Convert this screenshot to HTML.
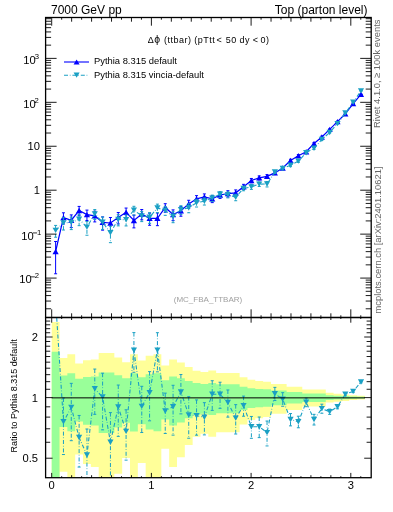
<!DOCTYPE html><html><head><meta charset="utf-8"><style>html,body{margin:0;padding:0;background:#fff;width:393px;height:512px;overflow:hidden}svg{position:absolute;left:0;top:0;will-change:transform}text{font-family:"Liberation Sans",sans-serif}</style></head><body>
<svg width="393" height="512" viewBox="0 0 393 512">
<defs><clipPath id="cm"><rect x="45.6" y="17.5" width="325.59999999999997" height="300.0"/></clipPath><clipPath id="cr"><rect x="45.6" y="317.5" width="325.59999999999997" height="160.2"/></clipPath></defs>
<g clip-path="url(#cr)">
<path d="M51.70,321.90 L59.53,321.90 L59.53,358.04 L67.36,358.04 L67.36,354.35 L75.19,354.35 L75.19,363.44 L83.02,363.44 L83.02,360.28 L90.85,360.28 L90.85,359.40 L98.68,359.40 L98.68,352.91 L106.51,352.91 L106.51,352.91 L114.34,352.91 L114.34,357.56 L122.17,357.56 L122.17,362.24 L130.00,362.24 L130.00,354.24 L137.83,354.24 L137.83,360.62 L145.67,360.62 L145.67,355.81 L153.50,355.81 L153.50,354.35 L161.33,354.35 L161.33,365.59 L169.16,365.59 L169.16,359.40 L176.99,359.40 L176.99,362.47 L184.82,362.47 L184.82,367.01 L192.65,367.01 L192.65,370.67 L200.48,370.67 L200.48,372.05 L208.31,372.05 L208.31,370.61 L216.14,370.61 L216.14,372.88 L223.97,372.88 L223.97,372.88 L231.80,372.88 L231.80,372.88 L239.63,372.88 L239.63,377.14 L247.46,377.14 L247.46,379.86 L255.29,379.86 L255.29,380.98 L263.12,380.98 L263.12,381.68 L270.95,381.68 L270.95,383.97 L278.78,383.97 L278.78,383.97 L286.61,383.97 L286.61,386.78 L294.44,386.78 L294.44,386.78 L302.27,386.78 L302.27,389.51 L310.10,389.51 L310.10,389.51 L317.93,389.51 L317.93,389.51 L325.76,389.51 L325.76,392.87 L333.60,392.87 L333.60,393.73 L341.43,393.73 L341.43,394.43 L349.26,394.43 L349.26,395.17 L357.09,395.17 L357.09,395.69 L364.92,395.69 L364.92,399.57 L357.09,399.57 L357.09,400.12 L349.26,400.12 L349.26,400.91 L341.43,400.91 L341.43,401.67 L333.60,401.67 L333.60,402.62 L325.76,402.62 L325.76,406.53 L317.93,406.53 L317.93,406.53 L310.10,406.53 L310.10,406.53 L302.27,406.53 L302.27,409.98 L294.44,409.98 L294.44,409.98 L286.61,409.98 L286.61,413.77 L278.78,413.77 L278.78,413.77 L270.95,413.77 L270.95,417.10 L263.12,417.10 L263.12,418.16 L255.29,418.16 L255.29,419.90 L247.46,419.90 L247.46,424.39 L239.63,424.39 L239.63,432.22 L231.80,432.22 L231.80,432.22 L223.97,432.22 L223.97,432.22 L216.14,432.22 L216.14,436.87 L208.31,436.87 L208.31,433.87 L200.48,433.87 L200.48,436.74 L192.65,436.74 L192.65,445.09 L184.82,445.09 L184.82,457.29 L176.99,457.29 L176.99,467.04 L169.16,467.04 L169.16,448.66 L161.33,448.66 L161.33,486.98 L153.50,486.98 L153.50,480.62 L145.67,480.62 L145.67,463.01 L137.83,463.01 L137.83,487.45 L130.00,487.45 L130.00,457.96 L122.17,457.96 L122.17,473.67 L114.34,473.67 L114.34,493.84 L106.51,493.84 L106.51,493.84 L98.68,493.84 L98.68,467.04 L90.85,467.04 L90.85,464.09 L83.02,464.09 L83.02,454.48 L75.19,454.48 L75.19,486.98 L67.36,486.98 L67.36,471.86 L59.53,471.86 L59.53,482.70 L51.70,482.70Z" fill="#ffff99"/>
<path d="M51.70,351.80 L59.53,351.80 L59.53,375.61 L67.36,375.61 L67.36,373.33 L75.19,373.33 L75.19,378.87 L83.02,378.87 L83.02,376.97 L90.85,376.97 L90.85,376.44 L98.68,376.44 L98.68,372.43 L106.51,372.43 L106.51,372.43 L114.34,372.43 L114.34,375.31 L122.17,375.31 L122.17,378.15 L130.00,378.15 L130.00,373.27 L137.83,373.27 L137.83,377.17 L145.67,377.17 L145.67,374.23 L153.50,374.23 L153.50,373.33 L161.33,373.33 L161.33,380.14 L169.16,380.14 L169.16,376.44 L176.99,376.44 L176.99,378.29 L184.82,378.29 L184.82,380.98 L192.65,380.98 L192.65,383.11 L200.48,383.11 L200.48,383.90 L208.31,383.90 L208.31,383.07 L216.14,383.07 L216.14,384.37 L223.97,384.37 L223.97,384.37 L231.80,384.37 L231.80,384.37 L239.63,384.37 L239.63,386.78 L247.46,386.78 L247.46,388.29 L255.29,388.29 L255.29,388.90 L263.12,388.90 L263.12,389.28 L270.95,389.28 L270.95,390.53 L278.78,390.53 L278.78,390.53 L286.61,390.53 L286.61,392.02 L294.44,392.02 L294.44,392.02 L302.27,392.02 L302.27,393.47 L310.10,393.47 L310.10,393.47 L317.93,393.47 L317.93,393.47 L325.76,393.47 L325.76,395.21 L333.60,395.21 L333.60,395.65 L341.43,395.65 L341.43,396.01 L349.26,396.01 L349.26,396.38 L357.09,396.38 L357.09,396.64 L364.92,396.64 L364.92,398.59 L357.09,398.59 L357.09,398.86 L349.26,398.86 L349.26,399.24 L341.43,399.24 L341.43,399.62 L333.60,399.62 L333.60,400.08 L325.76,400.08 L325.76,401.96 L317.93,401.96 L317.93,401.96 L310.10,401.96 L310.10,401.96 L302.27,401.96 L302.27,403.57 L294.44,403.57 L294.44,403.57 L286.61,403.57 L286.61,405.32 L278.78,405.32 L278.78,405.32 L270.95,405.32 L270.95,406.81 L263.12,406.81 L263.12,407.28 L255.29,407.28 L255.29,408.04 L247.46,408.04 L247.46,409.98 L239.63,409.98 L239.63,413.21 L231.80,413.21 L231.80,413.21 L223.97,413.21 L223.97,413.21 L216.14,413.21 L216.14,415.06 L208.31,415.06 L208.31,413.87 L200.48,413.87 L200.48,415.00 L192.65,415.00 L192.65,418.16 L184.82,418.16 L184.82,422.45 L176.99,422.45 L176.99,425.61 L169.16,425.61 L169.16,419.46 L161.33,419.46 L161.33,431.34 L153.50,431.34 L153.50,429.61 L145.67,429.61 L145.67,424.33 L137.83,424.33 L137.83,431.46 L130.00,431.46 L130.00,422.68 L122.17,422.68 L122.17,427.62 L114.34,427.62 L114.34,433.10 L106.51,433.10 L106.51,433.10 L98.68,433.10 L98.68,425.61 L90.85,425.61 L90.85,424.68 L83.02,424.68 L83.02,421.50 L75.19,421.50 L75.19,431.34 L67.36,431.34 L67.36,427.08 L59.53,427.08 L59.53,499.64 L51.70,499.64Z" fill="#99ff99"/>
<polyline points="55.62,301.00 63.45,421.80 71.28,407.40 79.11,437.50 86.94,455.00 94.77,388.80 102.60,397.00 110.43,442.30 118.26,407.00 126.09,431.40 133.92,350.20 141.75,406.40 149.58,392.80 157.41,350.10 165.24,411.00 173.07,406.70 180.90,392.00 188.73,415.00 196.56,415.80 204.39,417.30 212.22,394.30 220.05,394.30 227.88,402.50 235.71,418.10 243.55,405.60 251.38,426.70 259.21,426.70 267.04,432.60 274.87,393.70 282.70,399.20 290.53,419.50 298.36,421.80 306.19,402.30 314.02,419.50 321.85,408.60 329.68,411.70 337.51,406.70 345.34,394.20 353.17,391.40 361.00,382.00" fill="none" stroke="#1aa0c4" stroke-width="1.1" stroke-dasharray="4,1.8,0.7,1.9"/>
<line x1="63.45" y1="398.03" x2="63.45" y2="454.54" stroke="#1aa0c4" stroke-width="1" stroke-dasharray="4,1.8,0.7,1.9"/>
<line x1="61.95" y1="398.03" x2="64.95" y2="398.03" stroke="#1aa0c4" stroke-width="1"/>
<line x1="61.95" y1="454.54" x2="64.95" y2="454.54" stroke="#1aa0c4" stroke-width="1"/>
<line x1="71.28" y1="383.35" x2="71.28" y2="440.68" stroke="#1aa0c4" stroke-width="1" stroke-dasharray="4,1.8,0.7,1.9"/>
<line x1="69.78" y1="383.35" x2="72.78" y2="383.35" stroke="#1aa0c4" stroke-width="1"/>
<line x1="69.78" y1="440.68" x2="72.78" y2="440.68" stroke="#1aa0c4" stroke-width="1"/>
<line x1="79.11" y1="415.44" x2="79.11" y2="467.07" stroke="#1aa0c4" stroke-width="1" stroke-dasharray="4,1.8,0.7,1.9"/>
<line x1="77.61" y1="415.44" x2="80.61" y2="415.44" stroke="#1aa0c4" stroke-width="1"/>
<line x1="77.61" y1="467.07" x2="80.61" y2="467.07" stroke="#1aa0c4" stroke-width="1"/>
<line x1="86.94" y1="429.00" x2="86.94" y2="492.17" stroke="#1aa0c4" stroke-width="1" stroke-dasharray="4,1.8,0.7,1.9"/>
<line x1="85.44" y1="429.00" x2="88.44" y2="429.00" stroke="#1aa0c4" stroke-width="1"/>
<line x1="85.44" y1="492.17" x2="88.44" y2="492.17" stroke="#1aa0c4" stroke-width="1"/>
<line x1="94.77" y1="369.07" x2="94.77" y2="414.32" stroke="#1aa0c4" stroke-width="1" stroke-dasharray="4,1.8,0.7,1.9"/>
<line x1="93.27" y1="369.07" x2="96.27" y2="369.07" stroke="#1aa0c4" stroke-width="1"/>
<line x1="93.27" y1="414.32" x2="96.27" y2="414.32" stroke="#1aa0c4" stroke-width="1"/>
<line x1="102.60" y1="373.19" x2="102.60" y2="429.84" stroke="#1aa0c4" stroke-width="1" stroke-dasharray="4,1.8,0.7,1.9"/>
<line x1="101.10" y1="373.19" x2="104.10" y2="373.19" stroke="#1aa0c4" stroke-width="1"/>
<line x1="101.10" y1="429.84" x2="104.10" y2="429.84" stroke="#1aa0c4" stroke-width="1"/>
<line x1="110.43" y1="412.60" x2="110.43" y2="487.62" stroke="#1aa0c4" stroke-width="1" stroke-dasharray="4,1.8,0.7,1.9"/>
<line x1="108.93" y1="412.60" x2="111.93" y2="412.60" stroke="#1aa0c4" stroke-width="1"/>
<line x1="108.93" y1="487.62" x2="111.93" y2="487.62" stroke="#1aa0c4" stroke-width="1"/>
<line x1="118.26" y1="385.06" x2="118.26" y2="436.36" stroke="#1aa0c4" stroke-width="1" stroke-dasharray="4,1.8,0.7,1.9"/>
<line x1="116.76" y1="385.06" x2="119.76" y2="385.06" stroke="#1aa0c4" stroke-width="1"/>
<line x1="116.76" y1="436.36" x2="119.76" y2="436.36" stroke="#1aa0c4" stroke-width="1"/>
<line x1="126.09" y1="409.81" x2="126.09" y2="460.13" stroke="#1aa0c4" stroke-width="1" stroke-dasharray="4,1.8,0.7,1.9"/>
<line x1="124.59" y1="409.81" x2="127.59" y2="409.81" stroke="#1aa0c4" stroke-width="1"/>
<line x1="124.59" y1="460.13" x2="127.59" y2="460.13" stroke="#1aa0c4" stroke-width="1"/>
<line x1="133.92" y1="332.60" x2="133.92" y2="372.26" stroke="#1aa0c4" stroke-width="1" stroke-dasharray="4,1.8,0.7,1.9"/>
<line x1="132.42" y1="332.60" x2="135.42" y2="332.60" stroke="#1aa0c4" stroke-width="1"/>
<line x1="132.42" y1="372.26" x2="135.42" y2="372.26" stroke="#1aa0c4" stroke-width="1"/>
<line x1="141.75" y1="386.31" x2="141.75" y2="432.52" stroke="#1aa0c4" stroke-width="1" stroke-dasharray="4,1.8,0.7,1.9"/>
<line x1="140.25" y1="386.31" x2="143.25" y2="386.31" stroke="#1aa0c4" stroke-width="1"/>
<line x1="140.25" y1="432.52" x2="143.25" y2="432.52" stroke="#1aa0c4" stroke-width="1"/>
<line x1="149.58" y1="371.61" x2="149.58" y2="420.82" stroke="#1aa0c4" stroke-width="1" stroke-dasharray="4,1.8,0.7,1.9"/>
<line x1="148.08" y1="371.61" x2="151.08" y2="371.61" stroke="#1aa0c4" stroke-width="1"/>
<line x1="148.08" y1="420.82" x2="151.08" y2="420.82" stroke="#1aa0c4" stroke-width="1"/>
<line x1="157.41" y1="332.70" x2="157.41" y2="371.85" stroke="#1aa0c4" stroke-width="1" stroke-dasharray="4,1.8,0.7,1.9"/>
<line x1="155.91" y1="332.70" x2="158.91" y2="332.70" stroke="#1aa0c4" stroke-width="1"/>
<line x1="155.91" y1="371.85" x2="158.91" y2="371.85" stroke="#1aa0c4" stroke-width="1"/>
<line x1="165.24" y1="393.14" x2="165.24" y2="433.47" stroke="#1aa0c4" stroke-width="1" stroke-dasharray="4,1.8,0.7,1.9"/>
<line x1="163.74" y1="393.14" x2="166.74" y2="393.14" stroke="#1aa0c4" stroke-width="1"/>
<line x1="163.74" y1="433.47" x2="166.74" y2="433.47" stroke="#1aa0c4" stroke-width="1"/>
<line x1="173.07" y1="385.29" x2="173.07" y2="435.12" stroke="#1aa0c4" stroke-width="1" stroke-dasharray="4,1.8,0.7,1.9"/>
<line x1="171.57" y1="385.29" x2="174.57" y2="385.29" stroke="#1aa0c4" stroke-width="1"/>
<line x1="171.57" y1="435.12" x2="174.57" y2="435.12" stroke="#1aa0c4" stroke-width="1"/>
<line x1="180.90" y1="374.52" x2="180.90" y2="413.87" stroke="#1aa0c4" stroke-width="1" stroke-dasharray="4,1.8,0.7,1.9"/>
<line x1="179.40" y1="374.52" x2="182.40" y2="374.52" stroke="#1aa0c4" stroke-width="1"/>
<line x1="179.40" y1="413.87" x2="182.40" y2="413.87" stroke="#1aa0c4" stroke-width="1"/>
<line x1="188.73" y1="396.67" x2="188.73" y2="438.22" stroke="#1aa0c4" stroke-width="1" stroke-dasharray="4,1.8,0.7,1.9"/>
<line x1="187.23" y1="396.67" x2="190.23" y2="396.67" stroke="#1aa0c4" stroke-width="1"/>
<line x1="187.23" y1="438.22" x2="190.23" y2="438.22" stroke="#1aa0c4" stroke-width="1"/>
<line x1="196.56" y1="399.93" x2="196.56" y2="435.20" stroke="#1aa0c4" stroke-width="1" stroke-dasharray="4,1.8,0.7,1.9"/>
<line x1="195.06" y1="399.93" x2="198.06" y2="399.93" stroke="#1aa0c4" stroke-width="1"/>
<line x1="195.06" y1="435.20" x2="198.06" y2="435.20" stroke="#1aa0c4" stroke-width="1"/>
<line x1="204.39" y1="402.67" x2="204.39" y2="434.88" stroke="#1aa0c4" stroke-width="1" stroke-dasharray="4,1.8,0.7,1.9"/>
<line x1="202.89" y1="402.67" x2="205.89" y2="402.67" stroke="#1aa0c4" stroke-width="1"/>
<line x1="202.89" y1="434.88" x2="205.89" y2="434.88" stroke="#1aa0c4" stroke-width="1"/>
<line x1="212.22" y1="380.72" x2="212.22" y2="410.38" stroke="#1aa0c4" stroke-width="1" stroke-dasharray="4,1.8,0.7,1.9"/>
<line x1="210.72" y1="380.72" x2="213.72" y2="380.72" stroke="#1aa0c4" stroke-width="1"/>
<line x1="210.72" y1="410.38" x2="213.72" y2="410.38" stroke="#1aa0c4" stroke-width="1"/>
<line x1="220.05" y1="382.22" x2="220.05" y2="408.32" stroke="#1aa0c4" stroke-width="1" stroke-dasharray="4,1.8,0.7,1.9"/>
<line x1="218.55" y1="382.22" x2="221.55" y2="382.22" stroke="#1aa0c4" stroke-width="1"/>
<line x1="218.55" y1="408.32" x2="221.55" y2="408.32" stroke="#1aa0c4" stroke-width="1"/>
<line x1="227.88" y1="389.97" x2="227.88" y2="417.13" stroke="#1aa0c4" stroke-width="1" stroke-dasharray="4,1.8,0.7,1.9"/>
<line x1="226.38" y1="389.97" x2="229.38" y2="389.97" stroke="#1aa0c4" stroke-width="1"/>
<line x1="226.38" y1="417.13" x2="229.38" y2="417.13" stroke="#1aa0c4" stroke-width="1"/>
<line x1="235.71" y1="404.65" x2="235.71" y2="434.00" stroke="#1aa0c4" stroke-width="1" stroke-dasharray="4,1.8,0.7,1.9"/>
<line x1="234.21" y1="404.65" x2="237.21" y2="404.65" stroke="#1aa0c4" stroke-width="1"/>
<line x1="234.21" y1="434.00" x2="237.21" y2="434.00" stroke="#1aa0c4" stroke-width="1"/>
<line x1="243.55" y1="396.14" x2="243.55" y2="416.21" stroke="#1aa0c4" stroke-width="1" stroke-dasharray="4,1.8,0.7,1.9"/>
<line x1="242.05" y1="396.14" x2="245.05" y2="396.14" stroke="#1aa0c4" stroke-width="1"/>
<line x1="242.05" y1="416.21" x2="245.05" y2="416.21" stroke="#1aa0c4" stroke-width="1"/>
<line x1="251.38" y1="416.44" x2="251.38" y2="438.32" stroke="#1aa0c4" stroke-width="1" stroke-dasharray="4,1.8,0.7,1.9"/>
<line x1="249.88" y1="416.44" x2="252.88" y2="416.44" stroke="#1aa0c4" stroke-width="1"/>
<line x1="249.88" y1="438.32" x2="252.88" y2="438.32" stroke="#1aa0c4" stroke-width="1"/>
<line x1="259.21" y1="417.00" x2="259.21" y2="437.62" stroke="#1aa0c4" stroke-width="1" stroke-dasharray="4,1.8,0.7,1.9"/>
<line x1="257.71" y1="417.00" x2="260.71" y2="417.00" stroke="#1aa0c4" stroke-width="1"/>
<line x1="257.71" y1="437.62" x2="260.71" y2="437.62" stroke="#1aa0c4" stroke-width="1"/>
<line x1="267.04" y1="421.04" x2="267.04" y2="445.93" stroke="#1aa0c4" stroke-width="1" stroke-dasharray="4,1.8,0.7,1.9"/>
<line x1="265.54" y1="421.04" x2="268.54" y2="421.04" stroke="#1aa0c4" stroke-width="1"/>
<line x1="265.54" y1="445.93" x2="268.54" y2="445.93" stroke="#1aa0c4" stroke-width="1"/>
<line x1="274.87" y1="387.36" x2="274.87" y2="400.54" stroke="#1aa0c4" stroke-width="1" stroke-dasharray="4,1.8,0.7,1.9"/>
<line x1="273.37" y1="387.36" x2="276.37" y2="387.36" stroke="#1aa0c4" stroke-width="1"/>
<line x1="273.37" y1="400.54" x2="276.37" y2="400.54" stroke="#1aa0c4" stroke-width="1"/>
<line x1="282.70" y1="392.67" x2="282.70" y2="406.26" stroke="#1aa0c4" stroke-width="1" stroke-dasharray="4,1.8,0.7,1.9"/>
<line x1="281.20" y1="392.67" x2="284.20" y2="392.67" stroke="#1aa0c4" stroke-width="1"/>
<line x1="281.20" y1="406.26" x2="284.20" y2="406.26" stroke="#1aa0c4" stroke-width="1"/>
<line x1="290.53" y1="413.56" x2="290.53" y2="425.87" stroke="#1aa0c4" stroke-width="1" stroke-dasharray="4,1.8,0.7,1.9"/>
<line x1="289.03" y1="413.56" x2="292.03" y2="413.56" stroke="#1aa0c4" stroke-width="1"/>
<line x1="289.03" y1="425.87" x2="292.03" y2="425.87" stroke="#1aa0c4" stroke-width="1"/>
<line x1="298.36" y1="416.21" x2="298.36" y2="427.77" stroke="#1aa0c4" stroke-width="1" stroke-dasharray="4,1.8,0.7,1.9"/>
<line x1="296.86" y1="416.21" x2="299.86" y2="416.21" stroke="#1aa0c4" stroke-width="1"/>
<line x1="296.86" y1="427.77" x2="299.86" y2="427.77" stroke="#1aa0c4" stroke-width="1"/>
<line x1="306.19" y1="398.12" x2="306.19" y2="406.69" stroke="#1aa0c4" stroke-width="1" stroke-dasharray="4,1.8,0.7,1.9"/>
<line x1="304.69" y1="398.12" x2="307.69" y2="398.12" stroke="#1aa0c4" stroke-width="1"/>
<line x1="304.69" y1="406.69" x2="307.69" y2="406.69" stroke="#1aa0c4" stroke-width="1"/>
<line x1="314.02" y1="414.33" x2="314.02" y2="425.00" stroke="#1aa0c4" stroke-width="1" stroke-dasharray="4,1.8,0.7,1.9"/>
<line x1="312.52" y1="414.33" x2="315.52" y2="414.33" stroke="#1aa0c4" stroke-width="1"/>
<line x1="312.52" y1="425.00" x2="315.52" y2="425.00" stroke="#1aa0c4" stroke-width="1"/>
<line x1="321.85" y1="404.20" x2="321.85" y2="413.24" stroke="#1aa0c4" stroke-width="1" stroke-dasharray="4,1.8,0.7,1.9"/>
<line x1="320.35" y1="404.20" x2="323.35" y2="404.20" stroke="#1aa0c4" stroke-width="1"/>
<line x1="320.35" y1="413.24" x2="323.35" y2="413.24" stroke="#1aa0c4" stroke-width="1"/>
<line x1="329.68" y1="409.10" x2="329.68" y2="414.38" stroke="#1aa0c4" stroke-width="1" stroke-dasharray="4,1.8,0.7,1.9"/>
<line x1="328.18" y1="409.10" x2="331.18" y2="409.10" stroke="#1aa0c4" stroke-width="1"/>
<line x1="328.18" y1="414.38" x2="331.18" y2="414.38" stroke="#1aa0c4" stroke-width="1"/>
<line x1="337.51" y1="404.63" x2="337.51" y2="408.82" stroke="#1aa0c4" stroke-width="1" stroke-dasharray="4,1.8,0.7,1.9"/>
<line x1="336.01" y1="404.63" x2="339.01" y2="404.63" stroke="#1aa0c4" stroke-width="1"/>
<line x1="336.01" y1="408.82" x2="339.01" y2="408.82" stroke="#1aa0c4" stroke-width="1"/>
<line x1="345.34" y1="392.63" x2="345.34" y2="395.80" stroke="#1aa0c4" stroke-width="1" stroke-dasharray="4,1.8,0.7,1.9"/>
<line x1="343.84" y1="392.63" x2="346.84" y2="392.63" stroke="#1aa0c4" stroke-width="1"/>
<line x1="343.84" y1="395.80" x2="346.84" y2="395.80" stroke="#1aa0c4" stroke-width="1"/>
<line x1="353.17" y1="390.21" x2="353.17" y2="392.60" stroke="#1aa0c4" stroke-width="1" stroke-dasharray="4,1.8,0.7,1.9"/>
<line x1="351.67" y1="390.21" x2="354.67" y2="390.21" stroke="#1aa0c4" stroke-width="1"/>
<line x1="351.67" y1="392.60" x2="354.67" y2="392.60" stroke="#1aa0c4" stroke-width="1"/>
<line x1="361.00" y1="381.12" x2="361.00" y2="382.89" stroke="#1aa0c4" stroke-width="1" stroke-dasharray="4,1.8,0.7,1.9"/>
<line x1="359.50" y1="381.12" x2="362.50" y2="381.12" stroke="#1aa0c4" stroke-width="1"/>
<line x1="359.50" y1="382.89" x2="362.50" y2="382.89" stroke="#1aa0c4" stroke-width="1"/>
<path d="M52.52,298.30h6.2l-3.1,5.4z" fill="#1aa0c4"/>
<path d="M60.35,419.10h6.2l-3.1,5.4z" fill="#1aa0c4"/>
<path d="M68.18,404.70h6.2l-3.1,5.4z" fill="#1aa0c4"/>
<path d="M76.01,434.80h6.2l-3.1,5.4z" fill="#1aa0c4"/>
<path d="M83.84,452.30h6.2l-3.1,5.4z" fill="#1aa0c4"/>
<path d="M91.67,386.10h6.2l-3.1,5.4z" fill="#1aa0c4"/>
<path d="M99.50,394.30h6.2l-3.1,5.4z" fill="#1aa0c4"/>
<path d="M107.33,439.60h6.2l-3.1,5.4z" fill="#1aa0c4"/>
<path d="M115.16,404.30h6.2l-3.1,5.4z" fill="#1aa0c4"/>
<path d="M122.99,428.70h6.2l-3.1,5.4z" fill="#1aa0c4"/>
<path d="M130.82,347.50h6.2l-3.1,5.4z" fill="#1aa0c4"/>
<path d="M138.65,403.70h6.2l-3.1,5.4z" fill="#1aa0c4"/>
<path d="M146.48,390.10h6.2l-3.1,5.4z" fill="#1aa0c4"/>
<path d="M154.31,347.40h6.2l-3.1,5.4z" fill="#1aa0c4"/>
<path d="M162.14,408.30h6.2l-3.1,5.4z" fill="#1aa0c4"/>
<path d="M169.97,404.00h6.2l-3.1,5.4z" fill="#1aa0c4"/>
<path d="M177.80,389.30h6.2l-3.1,5.4z" fill="#1aa0c4"/>
<path d="M185.63,412.30h6.2l-3.1,5.4z" fill="#1aa0c4"/>
<path d="M193.46,413.10h6.2l-3.1,5.4z" fill="#1aa0c4"/>
<path d="M201.29,414.60h6.2l-3.1,5.4z" fill="#1aa0c4"/>
<path d="M209.12,391.60h6.2l-3.1,5.4z" fill="#1aa0c4"/>
<path d="M216.95,391.60h6.2l-3.1,5.4z" fill="#1aa0c4"/>
<path d="M224.78,399.80h6.2l-3.1,5.4z" fill="#1aa0c4"/>
<path d="M232.61,415.40h6.2l-3.1,5.4z" fill="#1aa0c4"/>
<path d="M240.45,402.90h6.2l-3.1,5.4z" fill="#1aa0c4"/>
<path d="M248.28,424.00h6.2l-3.1,5.4z" fill="#1aa0c4"/>
<path d="M256.11,424.00h6.2l-3.1,5.4z" fill="#1aa0c4"/>
<path d="M263.94,429.90h6.2l-3.1,5.4z" fill="#1aa0c4"/>
<path d="M271.77,391.00h6.2l-3.1,5.4z" fill="#1aa0c4"/>
<path d="M279.60,396.50h6.2l-3.1,5.4z" fill="#1aa0c4"/>
<path d="M287.43,416.80h6.2l-3.1,5.4z" fill="#1aa0c4"/>
<path d="M295.26,419.10h6.2l-3.1,5.4z" fill="#1aa0c4"/>
<path d="M303.09,399.60h6.2l-3.1,5.4z" fill="#1aa0c4"/>
<path d="M310.92,416.80h6.2l-3.1,5.4z" fill="#1aa0c4"/>
<path d="M318.75,405.90h6.2l-3.1,5.4z" fill="#1aa0c4"/>
<path d="M326.58,409.00h6.2l-3.1,5.4z" fill="#1aa0c4"/>
<path d="M334.41,404.00h6.2l-3.1,5.4z" fill="#1aa0c4"/>
<path d="M342.24,391.50h6.2l-3.1,5.4z" fill="#1aa0c4"/>
<path d="M350.07,388.70h6.2l-3.1,5.4z" fill="#1aa0c4"/>
<path d="M357.90,379.30h6.2l-3.1,5.4z" fill="#1aa0c4"/>
<line x1="51.7" y1="397.86" x2="364.92" y2="397.86" stroke="#000" stroke-width="1"/>
</g>
<g clip-path="url(#cm)">
<polyline points="55.62,251.50 63.45,217.60 71.28,220.20 79.11,210.50 86.94,214.60 94.77,215.80 102.60,222.40 110.43,223.00 118.26,217.40 126.09,212.30 133.92,220.50 141.75,214.00 149.58,218.30 157.41,218.30 165.24,207.50 173.07,214.50 180.90,210.80 188.73,203.90 196.56,198.80 204.39,196.90 212.22,198.80 220.05,195.00 227.88,193.60 235.71,192.80 243.55,186.70 251.38,180.50 259.21,177.80 267.04,176.40 274.87,172.90 282.70,168.00 290.53,160.50 298.36,155.80 306.19,151.70 314.02,143.50 321.85,137.00 329.68,129.40 337.51,121.60 345.34,113.80 353.17,103.60 361.00,94.30" fill="none" stroke="#0000ff" stroke-width="1.2"/>
<line x1="55.62" y1="241.50" x2="55.62" y2="273.77" stroke="#0000ff" stroke-width="1"/>
<line x1="54.12" y1="241.50" x2="57.12" y2="241.50" stroke="#0000ff" stroke-width="1"/>
<line x1="54.12" y1="273.77" x2="57.12" y2="273.77" stroke="#0000ff" stroke-width="1"/>
<line x1="63.45" y1="212.80" x2="63.45" y2="224.03" stroke="#0000ff" stroke-width="1"/>
<line x1="61.95" y1="212.80" x2="64.95" y2="212.80" stroke="#0000ff" stroke-width="1"/>
<line x1="61.95" y1="224.03" x2="64.95" y2="224.03" stroke="#0000ff" stroke-width="1"/>
<line x1="71.28" y1="214.90" x2="71.28" y2="227.56" stroke="#0000ff" stroke-width="1"/>
<line x1="69.78" y1="214.90" x2="72.78" y2="214.90" stroke="#0000ff" stroke-width="1"/>
<line x1="69.78" y1="227.56" x2="72.78" y2="227.56" stroke="#0000ff" stroke-width="1"/>
<line x1="79.11" y1="206.41" x2="79.11" y2="215.71" stroke="#0000ff" stroke-width="1"/>
<line x1="77.61" y1="206.41" x2="80.61" y2="206.41" stroke="#0000ff" stroke-width="1"/>
<line x1="77.61" y1="215.71" x2="80.61" y2="215.71" stroke="#0000ff" stroke-width="1"/>
<line x1="86.94" y1="210.10" x2="86.94" y2="220.51" stroke="#0000ff" stroke-width="1"/>
<line x1="85.44" y1="210.10" x2="88.44" y2="210.10" stroke="#0000ff" stroke-width="1"/>
<line x1="85.44" y1="220.51" x2="88.44" y2="220.51" stroke="#0000ff" stroke-width="1"/>
<line x1="94.77" y1="211.18" x2="94.77" y2="221.91" stroke="#0000ff" stroke-width="1"/>
<line x1="93.27" y1="211.18" x2="96.27" y2="211.18" stroke="#0000ff" stroke-width="1"/>
<line x1="93.27" y1="221.91" x2="96.27" y2="221.91" stroke="#0000ff" stroke-width="1"/>
<line x1="102.60" y1="216.91" x2="102.60" y2="230.15" stroke="#0000ff" stroke-width="1"/>
<line x1="101.10" y1="216.91" x2="104.10" y2="216.91" stroke="#0000ff" stroke-width="1"/>
<line x1="101.10" y1="230.15" x2="104.10" y2="230.15" stroke="#0000ff" stroke-width="1"/>
<line x1="110.43" y1="217.51" x2="110.43" y2="230.75" stroke="#0000ff" stroke-width="1"/>
<line x1="108.93" y1="217.51" x2="111.93" y2="217.51" stroke="#0000ff" stroke-width="1"/>
<line x1="108.93" y1="230.75" x2="111.93" y2="230.75" stroke="#0000ff" stroke-width="1"/>
<line x1="118.26" y1="212.53" x2="118.26" y2="223.95" stroke="#0000ff" stroke-width="1"/>
<line x1="116.76" y1="212.53" x2="119.76" y2="212.53" stroke="#0000ff" stroke-width="1"/>
<line x1="116.76" y1="223.95" x2="119.76" y2="223.95" stroke="#0000ff" stroke-width="1"/>
<line x1="126.09" y1="208.05" x2="126.09" y2="217.77" stroke="#0000ff" stroke-width="1"/>
<line x1="124.59" y1="208.05" x2="127.59" y2="208.05" stroke="#0000ff" stroke-width="1"/>
<line x1="124.59" y1="217.77" x2="127.59" y2="217.77" stroke="#0000ff" stroke-width="1"/>
<line x1="133.92" y1="215.19" x2="133.92" y2="227.89" stroke="#0000ff" stroke-width="1"/>
<line x1="132.42" y1="215.19" x2="135.42" y2="215.19" stroke="#0000ff" stroke-width="1"/>
<line x1="132.42" y1="227.89" x2="135.42" y2="227.89" stroke="#0000ff" stroke-width="1"/>
<line x1="141.75" y1="209.54" x2="141.75" y2="219.83" stroke="#0000ff" stroke-width="1"/>
<line x1="140.25" y1="209.54" x2="143.25" y2="209.54" stroke="#0000ff" stroke-width="1"/>
<line x1="140.25" y1="219.83" x2="143.25" y2="219.83" stroke="#0000ff" stroke-width="1"/>
<line x1="149.58" y1="213.20" x2="149.58" y2="225.28" stroke="#0000ff" stroke-width="1"/>
<line x1="148.08" y1="213.20" x2="151.08" y2="213.20" stroke="#0000ff" stroke-width="1"/>
<line x1="148.08" y1="225.28" x2="151.08" y2="225.28" stroke="#0000ff" stroke-width="1"/>
<line x1="157.41" y1="213.00" x2="157.41" y2="225.66" stroke="#0000ff" stroke-width="1"/>
<line x1="155.91" y1="213.00" x2="158.91" y2="213.00" stroke="#0000ff" stroke-width="1"/>
<line x1="155.91" y1="225.66" x2="158.91" y2="225.66" stroke="#0000ff" stroke-width="1"/>
<line x1="165.24" y1="203.69" x2="165.24" y2="212.27" stroke="#0000ff" stroke-width="1"/>
<line x1="163.74" y1="203.69" x2="166.74" y2="203.69" stroke="#0000ff" stroke-width="1"/>
<line x1="163.74" y1="212.27" x2="166.74" y2="212.27" stroke="#0000ff" stroke-width="1"/>
<line x1="173.07" y1="209.88" x2="173.07" y2="220.61" stroke="#0000ff" stroke-width="1"/>
<line x1="171.57" y1="209.88" x2="174.57" y2="209.88" stroke="#0000ff" stroke-width="1"/>
<line x1="171.57" y1="220.61" x2="174.57" y2="220.61" stroke="#0000ff" stroke-width="1"/>
<line x1="180.90" y1="206.58" x2="180.90" y2="216.22" stroke="#0000ff" stroke-width="1"/>
<line x1="179.40" y1="206.58" x2="182.40" y2="206.58" stroke="#0000ff" stroke-width="1"/>
<line x1="179.40" y1="216.22" x2="182.40" y2="216.22" stroke="#0000ff" stroke-width="1"/>
<line x1="188.73" y1="200.27" x2="188.73" y2="208.39" stroke="#0000ff" stroke-width="1"/>
<line x1="187.23" y1="200.27" x2="190.23" y2="200.27" stroke="#0000ff" stroke-width="1"/>
<line x1="187.23" y1="208.39" x2="190.23" y2="208.39" stroke="#0000ff" stroke-width="1"/>
<line x1="196.56" y1="195.63" x2="196.56" y2="202.60" stroke="#0000ff" stroke-width="1"/>
<line x1="195.06" y1="195.63" x2="198.06" y2="195.63" stroke="#0000ff" stroke-width="1"/>
<line x1="195.06" y1="202.60" x2="198.06" y2="202.60" stroke="#0000ff" stroke-width="1"/>
<line x1="204.39" y1="193.91" x2="204.39" y2="200.45" stroke="#0000ff" stroke-width="1"/>
<line x1="202.89" y1="193.91" x2="205.89" y2="193.91" stroke="#0000ff" stroke-width="1"/>
<line x1="202.89" y1="200.45" x2="205.89" y2="200.45" stroke="#0000ff" stroke-width="1"/>
<line x1="212.22" y1="195.63" x2="212.22" y2="202.61" stroke="#0000ff" stroke-width="1"/>
<line x1="210.72" y1="195.63" x2="213.72" y2="195.63" stroke="#0000ff" stroke-width="1"/>
<line x1="210.72" y1="202.61" x2="213.72" y2="202.61" stroke="#0000ff" stroke-width="1"/>
<line x1="220.05" y1="192.11" x2="220.05" y2="198.41" stroke="#0000ff" stroke-width="1"/>
<line x1="218.55" y1="192.11" x2="221.55" y2="192.11" stroke="#0000ff" stroke-width="1"/>
<line x1="218.55" y1="198.41" x2="221.55" y2="198.41" stroke="#0000ff" stroke-width="1"/>
<line x1="227.88" y1="190.71" x2="227.88" y2="197.01" stroke="#0000ff" stroke-width="1"/>
<line x1="226.38" y1="190.71" x2="229.38" y2="190.71" stroke="#0000ff" stroke-width="1"/>
<line x1="226.38" y1="197.01" x2="229.38" y2="197.01" stroke="#0000ff" stroke-width="1"/>
<line x1="235.71" y1="189.91" x2="235.71" y2="196.21" stroke="#0000ff" stroke-width="1"/>
<line x1="234.21" y1="189.91" x2="237.21" y2="189.91" stroke="#0000ff" stroke-width="1"/>
<line x1="234.21" y1="196.21" x2="237.21" y2="196.21" stroke="#0000ff" stroke-width="1"/>
<line x1="243.55" y1="184.34" x2="243.55" y2="189.40" stroke="#0000ff" stroke-width="1"/>
<line x1="242.05" y1="184.34" x2="245.05" y2="184.34" stroke="#0000ff" stroke-width="1"/>
<line x1="242.05" y1="189.40" x2="245.05" y2="189.40" stroke="#0000ff" stroke-width="1"/>
<line x1="251.38" y1="178.47" x2="251.38" y2="182.78" stroke="#0000ff" stroke-width="1"/>
<line x1="249.88" y1="178.47" x2="252.88" y2="178.47" stroke="#0000ff" stroke-width="1"/>
<line x1="249.88" y1="182.78" x2="252.88" y2="182.78" stroke="#0000ff" stroke-width="1"/>
<line x1="259.21" y1="175.90" x2="259.21" y2="179.91" stroke="#0000ff" stroke-width="1"/>
<line x1="257.71" y1="175.90" x2="260.71" y2="175.90" stroke="#0000ff" stroke-width="1"/>
<line x1="257.71" y1="179.91" x2="260.71" y2="179.91" stroke="#0000ff" stroke-width="1"/>
<line x1="267.04" y1="174.58" x2="267.04" y2="178.41" stroke="#0000ff" stroke-width="1"/>
<line x1="265.54" y1="174.58" x2="268.54" y2="174.58" stroke="#0000ff" stroke-width="1"/>
<line x1="265.54" y1="178.41" x2="268.54" y2="178.41" stroke="#0000ff" stroke-width="1"/>
<line x1="274.87" y1="171.35" x2="274.87" y2="174.58" stroke="#0000ff" stroke-width="1"/>
<line x1="273.37" y1="171.35" x2="276.37" y2="171.35" stroke="#0000ff" stroke-width="1"/>
<line x1="273.37" y1="174.58" x2="276.37" y2="174.58" stroke="#0000ff" stroke-width="1"/>
<line x1="282.70" y1="166.45" x2="282.70" y2="169.68" stroke="#0000ff" stroke-width="1"/>
<line x1="281.20" y1="166.45" x2="284.20" y2="166.45" stroke="#0000ff" stroke-width="1"/>
<line x1="281.20" y1="169.68" x2="284.20" y2="169.68" stroke="#0000ff" stroke-width="1"/>
<line x1="290.53" y1="159.28" x2="290.53" y2="161.80" stroke="#0000ff" stroke-width="1"/>
<line x1="289.03" y1="159.28" x2="292.03" y2="159.28" stroke="#0000ff" stroke-width="1"/>
<line x1="289.03" y1="161.80" x2="292.03" y2="161.80" stroke="#0000ff" stroke-width="1"/>
<line x1="298.36" y1="154.58" x2="298.36" y2="157.10" stroke="#0000ff" stroke-width="1"/>
<line x1="296.86" y1="154.58" x2="299.86" y2="154.58" stroke="#0000ff" stroke-width="1"/>
<line x1="296.86" y1="157.10" x2="299.86" y2="157.10" stroke="#0000ff" stroke-width="1"/>
<line x1="306.19" y1="150.80" x2="306.19" y2="152.65" stroke="#0000ff" stroke-width="1"/>
<line x1="304.69" y1="150.80" x2="307.69" y2="150.80" stroke="#0000ff" stroke-width="1"/>
<line x1="304.69" y1="152.65" x2="307.69" y2="152.65" stroke="#0000ff" stroke-width="1"/>
<line x1="314.02" y1="142.60" x2="314.02" y2="144.45" stroke="#0000ff" stroke-width="1"/>
<line x1="312.52" y1="142.60" x2="315.52" y2="142.60" stroke="#0000ff" stroke-width="1"/>
<line x1="312.52" y1="144.45" x2="315.52" y2="144.45" stroke="#0000ff" stroke-width="1"/>
<line x1="321.85" y1="136.10" x2="321.85" y2="137.95" stroke="#0000ff" stroke-width="1"/>
<line x1="320.35" y1="136.10" x2="323.35" y2="136.10" stroke="#0000ff" stroke-width="1"/>
<line x1="320.35" y1="137.95" x2="323.35" y2="137.95" stroke="#0000ff" stroke-width="1"/>
<line x1="329.68" y1="128.88" x2="329.68" y2="129.94" stroke="#0000ff" stroke-width="1"/>
<line x1="328.18" y1="128.88" x2="331.18" y2="128.88" stroke="#0000ff" stroke-width="1"/>
<line x1="328.18" y1="129.94" x2="331.18" y2="129.94" stroke="#0000ff" stroke-width="1"/>
<line x1="337.51" y1="121.17" x2="337.51" y2="122.04" stroke="#0000ff" stroke-width="1"/>
<line x1="336.01" y1="121.17" x2="339.01" y2="121.17" stroke="#0000ff" stroke-width="1"/>
<line x1="336.01" y1="122.04" x2="339.01" y2="122.04" stroke="#0000ff" stroke-width="1"/>
<line x1="345.34" y1="113.45" x2="345.34" y2="114.16" stroke="#0000ff" stroke-width="1"/>
<line x1="343.84" y1="113.45" x2="346.84" y2="113.45" stroke="#0000ff" stroke-width="1"/>
<line x1="343.84" y1="114.16" x2="346.84" y2="114.16" stroke="#0000ff" stroke-width="1"/>
<line x1="353.17" y1="103.33" x2="353.17" y2="103.87" stroke="#0000ff" stroke-width="1"/>
<line x1="351.67" y1="103.33" x2="354.67" y2="103.33" stroke="#0000ff" stroke-width="1"/>
<line x1="351.67" y1="103.87" x2="354.67" y2="103.87" stroke="#0000ff" stroke-width="1"/>
<line x1="361.00" y1="94.09" x2="361.00" y2="94.51" stroke="#0000ff" stroke-width="1"/>
<line x1="359.50" y1="94.09" x2="362.50" y2="94.09" stroke="#0000ff" stroke-width="1"/>
<line x1="359.50" y1="94.51" x2="362.50" y2="94.51" stroke="#0000ff" stroke-width="1"/>
<path d="M52.52,254.20h6.2l-3.1,-5.4z" fill="#0000ff"/>
<path d="M60.35,220.30h6.2l-3.1,-5.4z" fill="#0000ff"/>
<path d="M68.18,222.90h6.2l-3.1,-5.4z" fill="#0000ff"/>
<path d="M76.01,213.20h6.2l-3.1,-5.4z" fill="#0000ff"/>
<path d="M83.84,217.30h6.2l-3.1,-5.4z" fill="#0000ff"/>
<path d="M91.67,218.50h6.2l-3.1,-5.4z" fill="#0000ff"/>
<path d="M99.50,225.10h6.2l-3.1,-5.4z" fill="#0000ff"/>
<path d="M107.33,225.70h6.2l-3.1,-5.4z" fill="#0000ff"/>
<path d="M115.16,220.10h6.2l-3.1,-5.4z" fill="#0000ff"/>
<path d="M122.99,215.00h6.2l-3.1,-5.4z" fill="#0000ff"/>
<path d="M130.82,223.20h6.2l-3.1,-5.4z" fill="#0000ff"/>
<path d="M138.65,216.70h6.2l-3.1,-5.4z" fill="#0000ff"/>
<path d="M146.48,221.00h6.2l-3.1,-5.4z" fill="#0000ff"/>
<path d="M154.31,221.00h6.2l-3.1,-5.4z" fill="#0000ff"/>
<path d="M162.14,210.20h6.2l-3.1,-5.4z" fill="#0000ff"/>
<path d="M169.97,217.20h6.2l-3.1,-5.4z" fill="#0000ff"/>
<path d="M177.80,213.50h6.2l-3.1,-5.4z" fill="#0000ff"/>
<path d="M185.63,206.60h6.2l-3.1,-5.4z" fill="#0000ff"/>
<path d="M193.46,201.50h6.2l-3.1,-5.4z" fill="#0000ff"/>
<path d="M201.29,199.60h6.2l-3.1,-5.4z" fill="#0000ff"/>
<path d="M209.12,201.50h6.2l-3.1,-5.4z" fill="#0000ff"/>
<path d="M216.95,197.70h6.2l-3.1,-5.4z" fill="#0000ff"/>
<path d="M224.78,196.30h6.2l-3.1,-5.4z" fill="#0000ff"/>
<path d="M232.61,195.50h6.2l-3.1,-5.4z" fill="#0000ff"/>
<path d="M240.45,189.40h6.2l-3.1,-5.4z" fill="#0000ff"/>
<path d="M248.28,183.20h6.2l-3.1,-5.4z" fill="#0000ff"/>
<path d="M256.11,180.50h6.2l-3.1,-5.4z" fill="#0000ff"/>
<path d="M263.94,179.10h6.2l-3.1,-5.4z" fill="#0000ff"/>
<path d="M271.77,175.60h6.2l-3.1,-5.4z" fill="#0000ff"/>
<path d="M279.60,170.70h6.2l-3.1,-5.4z" fill="#0000ff"/>
<path d="M287.43,163.20h6.2l-3.1,-5.4z" fill="#0000ff"/>
<path d="M295.26,158.50h6.2l-3.1,-5.4z" fill="#0000ff"/>
<path d="M303.09,154.40h6.2l-3.1,-5.4z" fill="#0000ff"/>
<path d="M310.92,146.20h6.2l-3.1,-5.4z" fill="#0000ff"/>
<path d="M318.75,139.70h6.2l-3.1,-5.4z" fill="#0000ff"/>
<path d="M326.58,132.10h6.2l-3.1,-5.4z" fill="#0000ff"/>
<path d="M334.41,124.30h6.2l-3.1,-5.4z" fill="#0000ff"/>
<path d="M342.24,116.50h6.2l-3.1,-5.4z" fill="#0000ff"/>
<path d="M350.07,106.30h6.2l-3.1,-5.4z" fill="#0000ff"/>
<path d="M357.90,97.00h6.2l-3.1,-5.4z" fill="#0000ff"/>
<polyline points="55.62,230.41 63.45,222.88 71.28,222.34 79.11,219.21 86.94,227.13 94.77,213.88 102.60,222.27 110.43,232.75 118.26,219.45 126.09,219.68 133.92,210.15 141.75,215.92 149.58,217.25 157.41,207.93 165.24,210.42 173.07,216.48 180.90,209.58 188.73,207.70 196.56,202.77 204.39,201.20 212.22,198.08 220.05,194.28 227.88,194.67 235.71,197.27 243.55,188.44 251.38,186.85 259.21,184.15 267.04,184.04 274.87,172.05 282.70,168.35 290.53,165.28 298.36,161.08 306.19,152.72 314.02,148.28 321.85,139.40 329.68,132.48 337.51,123.58 345.34,113.06 353.17,102.24 361.00,90.89" fill="none" stroke="#1aa0c4" stroke-width="1.1" stroke-dasharray="4,1.8,0.7,1.9"/>
<line x1="55.62" y1="225.41" x2="55.62" y2="237.22" stroke="#1aa0c4" stroke-width="1" stroke-dasharray="4,1.8,0.7,1.9"/>
<line x1="54.12" y1="225.41" x2="57.12" y2="225.41" stroke="#1aa0c4" stroke-width="1"/>
<line x1="54.12" y1="237.22" x2="57.12" y2="237.22" stroke="#1aa0c4" stroke-width="1"/>
<line x1="63.45" y1="217.69" x2="63.45" y2="230.03" stroke="#1aa0c4" stroke-width="1" stroke-dasharray="4,1.8,0.7,1.9"/>
<line x1="61.95" y1="217.69" x2="64.95" y2="217.69" stroke="#1aa0c4" stroke-width="1"/>
<line x1="61.95" y1="230.03" x2="64.95" y2="230.03" stroke="#1aa0c4" stroke-width="1"/>
<line x1="71.28" y1="217.09" x2="71.28" y2="229.60" stroke="#1aa0c4" stroke-width="1" stroke-dasharray="4,1.8,0.7,1.9"/>
<line x1="69.78" y1="217.09" x2="72.78" y2="217.09" stroke="#1aa0c4" stroke-width="1"/>
<line x1="69.78" y1="229.60" x2="72.78" y2="229.60" stroke="#1aa0c4" stroke-width="1"/>
<line x1="79.11" y1="214.39" x2="79.11" y2="225.66" stroke="#1aa0c4" stroke-width="1" stroke-dasharray="4,1.8,0.7,1.9"/>
<line x1="77.61" y1="214.39" x2="80.61" y2="214.39" stroke="#1aa0c4" stroke-width="1"/>
<line x1="77.61" y1="225.66" x2="80.61" y2="225.66" stroke="#1aa0c4" stroke-width="1"/>
<line x1="86.94" y1="221.45" x2="86.94" y2="235.24" stroke="#1aa0c4" stroke-width="1" stroke-dasharray="4,1.8,0.7,1.9"/>
<line x1="85.44" y1="221.45" x2="88.44" y2="221.45" stroke="#1aa0c4" stroke-width="1"/>
<line x1="85.44" y1="235.24" x2="88.44" y2="235.24" stroke="#1aa0c4" stroke-width="1"/>
<line x1="94.77" y1="209.57" x2="94.77" y2="219.45" stroke="#1aa0c4" stroke-width="1" stroke-dasharray="4,1.8,0.7,1.9"/>
<line x1="93.27" y1="209.57" x2="96.27" y2="209.57" stroke="#1aa0c4" stroke-width="1"/>
<line x1="93.27" y1="219.45" x2="96.27" y2="219.45" stroke="#1aa0c4" stroke-width="1"/>
<line x1="102.60" y1="217.07" x2="102.60" y2="229.43" stroke="#1aa0c4" stroke-width="1" stroke-dasharray="4,1.8,0.7,1.9"/>
<line x1="101.10" y1="217.07" x2="104.10" y2="217.07" stroke="#1aa0c4" stroke-width="1"/>
<line x1="101.10" y1="229.43" x2="104.10" y2="229.43" stroke="#1aa0c4" stroke-width="1"/>
<line x1="110.43" y1="226.27" x2="110.43" y2="242.65" stroke="#1aa0c4" stroke-width="1" stroke-dasharray="4,1.8,0.7,1.9"/>
<line x1="108.93" y1="226.27" x2="111.93" y2="226.27" stroke="#1aa0c4" stroke-width="1"/>
<line x1="108.93" y1="242.65" x2="111.93" y2="242.65" stroke="#1aa0c4" stroke-width="1"/>
<line x1="118.26" y1="214.66" x2="118.26" y2="225.86" stroke="#1aa0c4" stroke-width="1" stroke-dasharray="4,1.8,0.7,1.9"/>
<line x1="116.76" y1="214.66" x2="119.76" y2="214.66" stroke="#1aa0c4" stroke-width="1"/>
<line x1="116.76" y1="225.86" x2="119.76" y2="225.86" stroke="#1aa0c4" stroke-width="1"/>
<line x1="126.09" y1="214.96" x2="126.09" y2="225.95" stroke="#1aa0c4" stroke-width="1" stroke-dasharray="4,1.8,0.7,1.9"/>
<line x1="124.59" y1="214.96" x2="127.59" y2="214.96" stroke="#1aa0c4" stroke-width="1"/>
<line x1="124.59" y1="225.95" x2="127.59" y2="225.95" stroke="#1aa0c4" stroke-width="1"/>
<line x1="133.92" y1="206.31" x2="133.92" y2="214.97" stroke="#1aa0c4" stroke-width="1" stroke-dasharray="4,1.8,0.7,1.9"/>
<line x1="132.42" y1="206.31" x2="135.42" y2="206.31" stroke="#1aa0c4" stroke-width="1"/>
<line x1="132.42" y1="214.97" x2="135.42" y2="214.97" stroke="#1aa0c4" stroke-width="1"/>
<line x1="141.75" y1="211.53" x2="141.75" y2="221.62" stroke="#1aa0c4" stroke-width="1" stroke-dasharray="4,1.8,0.7,1.9"/>
<line x1="140.25" y1="211.53" x2="143.25" y2="211.53" stroke="#1aa0c4" stroke-width="1"/>
<line x1="140.25" y1="221.62" x2="143.25" y2="221.62" stroke="#1aa0c4" stroke-width="1"/>
<line x1="149.58" y1="212.63" x2="149.58" y2="223.37" stroke="#1aa0c4" stroke-width="1" stroke-dasharray="4,1.8,0.7,1.9"/>
<line x1="148.08" y1="212.63" x2="151.08" y2="212.63" stroke="#1aa0c4" stroke-width="1"/>
<line x1="148.08" y1="223.37" x2="151.08" y2="223.37" stroke="#1aa0c4" stroke-width="1"/>
<line x1="157.41" y1="204.13" x2="157.41" y2="212.68" stroke="#1aa0c4" stroke-width="1" stroke-dasharray="4,1.8,0.7,1.9"/>
<line x1="155.91" y1="204.13" x2="158.91" y2="204.13" stroke="#1aa0c4" stroke-width="1"/>
<line x1="155.91" y1="212.68" x2="158.91" y2="212.68" stroke="#1aa0c4" stroke-width="1"/>
<line x1="165.24" y1="206.52" x2="165.24" y2="215.33" stroke="#1aa0c4" stroke-width="1" stroke-dasharray="4,1.8,0.7,1.9"/>
<line x1="163.74" y1="206.52" x2="166.74" y2="206.52" stroke="#1aa0c4" stroke-width="1"/>
<line x1="163.74" y1="215.33" x2="166.74" y2="215.33" stroke="#1aa0c4" stroke-width="1"/>
<line x1="173.07" y1="211.81" x2="173.07" y2="222.69" stroke="#1aa0c4" stroke-width="1" stroke-dasharray="4,1.8,0.7,1.9"/>
<line x1="171.57" y1="211.81" x2="174.57" y2="211.81" stroke="#1aa0c4" stroke-width="1"/>
<line x1="171.57" y1="222.69" x2="174.57" y2="222.69" stroke="#1aa0c4" stroke-width="1"/>
<line x1="180.90" y1="205.76" x2="180.90" y2="214.35" stroke="#1aa0c4" stroke-width="1" stroke-dasharray="4,1.8,0.7,1.9"/>
<line x1="179.40" y1="205.76" x2="182.40" y2="205.76" stroke="#1aa0c4" stroke-width="1"/>
<line x1="179.40" y1="214.35" x2="182.40" y2="214.35" stroke="#1aa0c4" stroke-width="1"/>
<line x1="188.73" y1="203.70" x2="188.73" y2="212.76" stroke="#1aa0c4" stroke-width="1" stroke-dasharray="4,1.8,0.7,1.9"/>
<line x1="187.23" y1="203.70" x2="190.23" y2="203.70" stroke="#1aa0c4" stroke-width="1"/>
<line x1="187.23" y1="212.76" x2="190.23" y2="212.76" stroke="#1aa0c4" stroke-width="1"/>
<line x1="196.56" y1="199.31" x2="196.56" y2="207.01" stroke="#1aa0c4" stroke-width="1" stroke-dasharray="4,1.8,0.7,1.9"/>
<line x1="195.06" y1="199.31" x2="198.06" y2="199.31" stroke="#1aa0c4" stroke-width="1"/>
<line x1="195.06" y1="207.01" x2="198.06" y2="207.01" stroke="#1aa0c4" stroke-width="1"/>
<line x1="204.39" y1="198.00" x2="204.39" y2="205.04" stroke="#1aa0c4" stroke-width="1" stroke-dasharray="4,1.8,0.7,1.9"/>
<line x1="202.89" y1="198.00" x2="205.89" y2="198.00" stroke="#1aa0c4" stroke-width="1"/>
<line x1="202.89" y1="205.04" x2="205.89" y2="205.04" stroke="#1aa0c4" stroke-width="1"/>
<line x1="212.22" y1="195.11" x2="212.22" y2="201.59" stroke="#1aa0c4" stroke-width="1" stroke-dasharray="4,1.8,0.7,1.9"/>
<line x1="210.72" y1="195.11" x2="213.72" y2="195.11" stroke="#1aa0c4" stroke-width="1"/>
<line x1="210.72" y1="201.59" x2="213.72" y2="201.59" stroke="#1aa0c4" stroke-width="1"/>
<line x1="220.05" y1="191.64" x2="220.05" y2="197.34" stroke="#1aa0c4" stroke-width="1" stroke-dasharray="4,1.8,0.7,1.9"/>
<line x1="218.55" y1="191.64" x2="221.55" y2="191.64" stroke="#1aa0c4" stroke-width="1"/>
<line x1="218.55" y1="197.34" x2="221.55" y2="197.34" stroke="#1aa0c4" stroke-width="1"/>
<line x1="227.88" y1="191.93" x2="227.88" y2="197.86" stroke="#1aa0c4" stroke-width="1" stroke-dasharray="4,1.8,0.7,1.9"/>
<line x1="226.38" y1="191.93" x2="229.38" y2="191.93" stroke="#1aa0c4" stroke-width="1"/>
<line x1="226.38" y1="197.86" x2="229.38" y2="197.86" stroke="#1aa0c4" stroke-width="1"/>
<line x1="235.71" y1="194.34" x2="235.71" y2="200.74" stroke="#1aa0c4" stroke-width="1" stroke-dasharray="4,1.8,0.7,1.9"/>
<line x1="234.21" y1="194.34" x2="237.21" y2="194.34" stroke="#1aa0c4" stroke-width="1"/>
<line x1="234.21" y1="200.74" x2="237.21" y2="200.74" stroke="#1aa0c4" stroke-width="1"/>
<line x1="243.55" y1="186.38" x2="243.55" y2="190.76" stroke="#1aa0c4" stroke-width="1" stroke-dasharray="4,1.8,0.7,1.9"/>
<line x1="242.05" y1="186.38" x2="245.05" y2="186.38" stroke="#1aa0c4" stroke-width="1"/>
<line x1="242.05" y1="190.76" x2="245.05" y2="190.76" stroke="#1aa0c4" stroke-width="1"/>
<line x1="251.38" y1="184.61" x2="251.38" y2="189.39" stroke="#1aa0c4" stroke-width="1" stroke-dasharray="4,1.8,0.7,1.9"/>
<line x1="249.88" y1="184.61" x2="252.88" y2="184.61" stroke="#1aa0c4" stroke-width="1"/>
<line x1="249.88" y1="189.39" x2="252.88" y2="189.39" stroke="#1aa0c4" stroke-width="1"/>
<line x1="259.21" y1="182.03" x2="259.21" y2="186.53" stroke="#1aa0c4" stroke-width="1" stroke-dasharray="4,1.8,0.7,1.9"/>
<line x1="257.71" y1="182.03" x2="260.71" y2="182.03" stroke="#1aa0c4" stroke-width="1"/>
<line x1="257.71" y1="186.53" x2="260.71" y2="186.53" stroke="#1aa0c4" stroke-width="1"/>
<line x1="267.04" y1="181.51" x2="267.04" y2="186.95" stroke="#1aa0c4" stroke-width="1" stroke-dasharray="4,1.8,0.7,1.9"/>
<line x1="265.54" y1="181.51" x2="268.54" y2="181.51" stroke="#1aa0c4" stroke-width="1"/>
<line x1="265.54" y1="186.95" x2="268.54" y2="186.95" stroke="#1aa0c4" stroke-width="1"/>
<line x1="274.87" y1="170.66" x2="274.87" y2="173.54" stroke="#1aa0c4" stroke-width="1" stroke-dasharray="4,1.8,0.7,1.9"/>
<line x1="273.37" y1="170.66" x2="276.37" y2="170.66" stroke="#1aa0c4" stroke-width="1"/>
<line x1="273.37" y1="173.54" x2="276.37" y2="173.54" stroke="#1aa0c4" stroke-width="1"/>
<line x1="282.70" y1="166.92" x2="282.70" y2="169.89" stroke="#1aa0c4" stroke-width="1" stroke-dasharray="4,1.8,0.7,1.9"/>
<line x1="281.20" y1="166.92" x2="284.20" y2="166.92" stroke="#1aa0c4" stroke-width="1"/>
<line x1="281.20" y1="169.89" x2="284.20" y2="169.89" stroke="#1aa0c4" stroke-width="1"/>
<line x1="290.53" y1="163.98" x2="290.53" y2="166.67" stroke="#1aa0c4" stroke-width="1" stroke-dasharray="4,1.8,0.7,1.9"/>
<line x1="289.03" y1="163.98" x2="292.03" y2="163.98" stroke="#1aa0c4" stroke-width="1"/>
<line x1="289.03" y1="166.67" x2="292.03" y2="166.67" stroke="#1aa0c4" stroke-width="1"/>
<line x1="298.36" y1="159.86" x2="298.36" y2="162.38" stroke="#1aa0c4" stroke-width="1" stroke-dasharray="4,1.8,0.7,1.9"/>
<line x1="296.86" y1="159.86" x2="299.86" y2="159.86" stroke="#1aa0c4" stroke-width="1"/>
<line x1="296.86" y1="162.38" x2="299.86" y2="162.38" stroke="#1aa0c4" stroke-width="1"/>
<line x1="306.19" y1="151.81" x2="306.19" y2="153.68" stroke="#1aa0c4" stroke-width="1" stroke-dasharray="4,1.8,0.7,1.9"/>
<line x1="304.69" y1="151.81" x2="307.69" y2="151.81" stroke="#1aa0c4" stroke-width="1"/>
<line x1="304.69" y1="153.68" x2="307.69" y2="153.68" stroke="#1aa0c4" stroke-width="1"/>
<line x1="314.02" y1="147.15" x2="314.02" y2="149.48" stroke="#1aa0c4" stroke-width="1" stroke-dasharray="4,1.8,0.7,1.9"/>
<line x1="312.52" y1="147.15" x2="315.52" y2="147.15" stroke="#1aa0c4" stroke-width="1"/>
<line x1="312.52" y1="149.48" x2="315.52" y2="149.48" stroke="#1aa0c4" stroke-width="1"/>
<line x1="321.85" y1="138.44" x2="321.85" y2="140.41" stroke="#1aa0c4" stroke-width="1" stroke-dasharray="4,1.8,0.7,1.9"/>
<line x1="320.35" y1="138.44" x2="323.35" y2="138.44" stroke="#1aa0c4" stroke-width="1"/>
<line x1="320.35" y1="140.41" x2="323.35" y2="140.41" stroke="#1aa0c4" stroke-width="1"/>
<line x1="329.68" y1="131.91" x2="329.68" y2="133.06" stroke="#1aa0c4" stroke-width="1" stroke-dasharray="4,1.8,0.7,1.9"/>
<line x1="328.18" y1="131.91" x2="331.18" y2="131.91" stroke="#1aa0c4" stroke-width="1"/>
<line x1="328.18" y1="133.06" x2="331.18" y2="133.06" stroke="#1aa0c4" stroke-width="1"/>
<line x1="337.51" y1="123.13" x2="337.51" y2="124.05" stroke="#1aa0c4" stroke-width="1" stroke-dasharray="4,1.8,0.7,1.9"/>
<line x1="336.01" y1="123.13" x2="339.01" y2="123.13" stroke="#1aa0c4" stroke-width="1"/>
<line x1="336.01" y1="124.05" x2="339.01" y2="124.05" stroke="#1aa0c4" stroke-width="1"/>
<line x1="345.34" y1="112.71" x2="345.34" y2="113.41" stroke="#1aa0c4" stroke-width="1" stroke-dasharray="4,1.8,0.7,1.9"/>
<line x1="343.84" y1="112.71" x2="346.84" y2="112.71" stroke="#1aa0c4" stroke-width="1"/>
<line x1="343.84" y1="113.41" x2="346.84" y2="113.41" stroke="#1aa0c4" stroke-width="1"/>
<line x1="353.17" y1="101.99" x2="353.17" y2="102.51" stroke="#1aa0c4" stroke-width="1" stroke-dasharray="4,1.8,0.7,1.9"/>
<line x1="351.67" y1="101.99" x2="354.67" y2="101.99" stroke="#1aa0c4" stroke-width="1"/>
<line x1="351.67" y1="102.51" x2="354.67" y2="102.51" stroke="#1aa0c4" stroke-width="1"/>
<line x1="361.00" y1="90.70" x2="361.00" y2="91.09" stroke="#1aa0c4" stroke-width="1" stroke-dasharray="4,1.8,0.7,1.9"/>
<line x1="359.50" y1="90.70" x2="362.50" y2="90.70" stroke="#1aa0c4" stroke-width="1"/>
<line x1="359.50" y1="91.09" x2="362.50" y2="91.09" stroke="#1aa0c4" stroke-width="1"/>
<path d="M52.52,227.71h6.2l-3.1,5.4z" fill="#1aa0c4"/>
<path d="M60.35,220.18h6.2l-3.1,5.4z" fill="#1aa0c4"/>
<path d="M68.18,219.64h6.2l-3.1,5.4z" fill="#1aa0c4"/>
<path d="M76.01,216.51h6.2l-3.1,5.4z" fill="#1aa0c4"/>
<path d="M83.84,224.43h6.2l-3.1,5.4z" fill="#1aa0c4"/>
<path d="M91.67,211.18h6.2l-3.1,5.4z" fill="#1aa0c4"/>
<path d="M99.50,219.57h6.2l-3.1,5.4z" fill="#1aa0c4"/>
<path d="M107.33,230.05h6.2l-3.1,5.4z" fill="#1aa0c4"/>
<path d="M115.16,216.75h6.2l-3.1,5.4z" fill="#1aa0c4"/>
<path d="M122.99,216.98h6.2l-3.1,5.4z" fill="#1aa0c4"/>
<path d="M130.82,207.45h6.2l-3.1,5.4z" fill="#1aa0c4"/>
<path d="M138.65,213.22h6.2l-3.1,5.4z" fill="#1aa0c4"/>
<path d="M146.48,214.55h6.2l-3.1,5.4z" fill="#1aa0c4"/>
<path d="M154.31,205.23h6.2l-3.1,5.4z" fill="#1aa0c4"/>
<path d="M162.14,207.72h6.2l-3.1,5.4z" fill="#1aa0c4"/>
<path d="M169.97,213.78h6.2l-3.1,5.4z" fill="#1aa0c4"/>
<path d="M177.80,206.88h6.2l-3.1,5.4z" fill="#1aa0c4"/>
<path d="M185.63,205.00h6.2l-3.1,5.4z" fill="#1aa0c4"/>
<path d="M193.46,200.07h6.2l-3.1,5.4z" fill="#1aa0c4"/>
<path d="M201.29,198.50h6.2l-3.1,5.4z" fill="#1aa0c4"/>
<path d="M209.12,195.38h6.2l-3.1,5.4z" fill="#1aa0c4"/>
<path d="M216.95,191.58h6.2l-3.1,5.4z" fill="#1aa0c4"/>
<path d="M224.78,191.97h6.2l-3.1,5.4z" fill="#1aa0c4"/>
<path d="M232.61,194.57h6.2l-3.1,5.4z" fill="#1aa0c4"/>
<path d="M240.45,185.74h6.2l-3.1,5.4z" fill="#1aa0c4"/>
<path d="M248.28,184.15h6.2l-3.1,5.4z" fill="#1aa0c4"/>
<path d="M256.11,181.45h6.2l-3.1,5.4z" fill="#1aa0c4"/>
<path d="M263.94,181.34h6.2l-3.1,5.4z" fill="#1aa0c4"/>
<path d="M271.77,169.35h6.2l-3.1,5.4z" fill="#1aa0c4"/>
<path d="M279.60,165.65h6.2l-3.1,5.4z" fill="#1aa0c4"/>
<path d="M287.43,162.58h6.2l-3.1,5.4z" fill="#1aa0c4"/>
<path d="M295.26,158.38h6.2l-3.1,5.4z" fill="#1aa0c4"/>
<path d="M303.09,150.02h6.2l-3.1,5.4z" fill="#1aa0c4"/>
<path d="M310.92,145.58h6.2l-3.1,5.4z" fill="#1aa0c4"/>
<path d="M318.75,136.70h6.2l-3.1,5.4z" fill="#1aa0c4"/>
<path d="M326.58,129.78h6.2l-3.1,5.4z" fill="#1aa0c4"/>
<path d="M334.41,120.88h6.2l-3.1,5.4z" fill="#1aa0c4"/>
<path d="M342.24,110.36h6.2l-3.1,5.4z" fill="#1aa0c4"/>
<path d="M350.07,99.54h6.2l-3.1,5.4z" fill="#1aa0c4"/>
<path d="M357.90,88.19h6.2l-3.1,5.4z" fill="#1aa0c4"/>
</g>
<rect x="45.6" y="17.5" width="325.60" height="300.0" fill="none" stroke="#000" stroke-width="1.3"/>
<rect x="45.6" y="317.5" width="325.60" height="160.20" fill="none" stroke="#000" stroke-width="1.3"/>
<path d="M45.60,308.79L51.10,308.79M371.20,308.79L365.70,308.79M45.60,301.06L51.10,301.06M371.20,301.06L365.70,301.06M45.60,295.57L51.10,295.57M371.20,295.57L365.70,295.57M45.60,291.31L51.10,291.31M371.20,291.31L365.70,291.31M45.60,287.83L51.10,287.83M371.20,287.83L365.70,287.83M45.60,284.89L51.10,284.89M371.20,284.89L365.70,284.89M45.60,282.34L51.10,282.34M371.20,282.34L365.70,282.34M45.60,280.09L51.10,280.09M371.20,280.09L365.70,280.09M45.60,278.08L56.60,278.08M371.20,278.08L360.20,278.08M45.60,264.85L51.10,264.85M371.20,264.85L365.70,264.85M45.60,257.12L51.10,257.12M371.20,257.12L365.70,257.12M45.60,251.63L51.10,251.63M371.20,251.63L365.70,251.63M45.60,247.37L51.10,247.37M371.20,247.37L365.70,247.37M45.60,243.89L51.10,243.89M371.20,243.89L365.70,243.89M45.60,240.95L51.10,240.95M371.20,240.95L365.70,240.95M45.60,238.40L51.10,238.40M371.20,238.40L365.70,238.40M45.60,236.15L51.10,236.15M371.20,236.15L365.70,236.15M45.60,234.14L56.60,234.14M371.20,234.14L360.20,234.14M45.60,220.91L51.10,220.91M371.20,220.91L365.70,220.91M45.60,213.18L51.10,213.18M371.20,213.18L365.70,213.18M45.60,207.69L51.10,207.69M371.20,207.69L365.70,207.69M45.60,203.43L51.10,203.43M371.20,203.43L365.70,203.43M45.60,199.95L51.10,199.95M371.20,199.95L365.70,199.95M45.60,197.01L51.10,197.01M371.20,197.01L365.70,197.01M45.60,194.46L51.10,194.46M371.20,194.46L365.70,194.46M45.60,192.21L51.10,192.21M371.20,192.21L365.70,192.21M45.60,190.20L56.60,190.20M371.20,190.20L360.20,190.20M45.60,176.97L51.10,176.97M371.20,176.97L365.70,176.97M45.60,169.24L51.10,169.24M371.20,169.24L365.70,169.24M45.60,163.75L51.10,163.75M371.20,163.75L365.70,163.75M45.60,159.49L51.10,159.49M371.20,159.49L365.70,159.49M45.60,156.01L51.10,156.01M371.20,156.01L365.70,156.01M45.60,153.07L51.10,153.07M371.20,153.07L365.70,153.07M45.60,150.52L51.10,150.52M371.20,150.52L365.70,150.52M45.60,148.27L51.10,148.27M371.20,148.27L365.70,148.27M45.60,146.26L56.60,146.26M371.20,146.26L360.20,146.26M45.60,133.03L51.10,133.03M371.20,133.03L365.70,133.03M45.60,125.30L51.10,125.30M371.20,125.30L365.70,125.30M45.60,119.81L51.10,119.81M371.20,119.81L365.70,119.81M45.60,115.55L51.10,115.55M371.20,115.55L365.70,115.55M45.60,112.07L51.10,112.07M371.20,112.07L365.70,112.07M45.60,109.13L51.10,109.13M371.20,109.13L365.70,109.13M45.60,106.58L51.10,106.58M371.20,106.58L365.70,106.58M45.60,104.33L51.10,104.33M371.20,104.33L365.70,104.33M45.60,102.32L56.60,102.32M371.20,102.32L360.20,102.32M45.60,89.09L51.10,89.09M371.20,89.09L365.70,89.09M45.60,81.36L51.10,81.36M371.20,81.36L365.70,81.36M45.60,75.87L51.10,75.87M371.20,75.87L365.70,75.87M45.60,71.61L51.10,71.61M371.20,71.61L365.70,71.61M45.60,68.13L51.10,68.13M371.20,68.13L365.70,68.13M45.60,65.19L51.10,65.19M371.20,65.19L365.70,65.19M45.60,62.64L51.10,62.64M371.20,62.64L365.70,62.64M45.60,60.39L51.10,60.39M371.20,60.39L365.70,60.39M45.60,58.38L56.60,58.38M371.20,58.38L360.20,58.38M45.60,45.15L51.10,45.15M371.20,45.15L365.70,45.15M45.60,37.42L51.10,37.42M371.20,37.42L365.70,37.42M45.60,31.93L51.10,31.93M371.20,31.93L365.70,31.93M45.60,27.67L51.10,27.67M371.20,27.67L365.70,27.67M45.60,24.19L51.10,24.19M371.20,24.19L365.70,24.19M45.60,21.25L51.10,21.25M371.20,21.25L365.70,21.25M45.60,18.70L51.10,18.70M371.20,18.70L365.70,18.70M51.70,17.50L51.70,25.70M51.70,317.50L51.70,309.30M51.70,317.50L51.70,322.70M51.70,477.70L51.70,472.90M61.67,17.50L61.67,19.70M61.67,317.50L61.67,315.30M61.67,317.50L61.67,319.00M61.67,477.70L61.67,476.20M71.64,17.50L71.64,21.70M71.64,317.50L71.64,313.30M71.64,317.50L71.64,320.00M71.64,477.70L71.64,475.20M81.61,17.50L81.61,19.70M81.61,317.50L81.61,315.30M81.61,317.50L81.61,319.00M81.61,477.70L81.61,476.20M91.58,17.50L91.58,21.70M91.58,317.50L91.58,313.30M91.58,317.50L91.58,320.00M91.58,477.70L91.58,475.20M101.55,17.50L101.55,19.70M101.55,317.50L101.55,315.30M101.55,317.50L101.55,319.00M101.55,477.70L101.55,476.20M111.52,17.50L111.52,21.70M111.52,317.50L111.52,313.30M111.52,317.50L111.52,320.00M111.52,477.70L111.52,475.20M121.49,17.50L121.49,19.70M121.49,317.50L121.49,315.30M121.49,317.50L121.49,319.00M121.49,477.70L121.49,476.20M131.46,17.50L131.46,21.70M131.46,317.50L131.46,313.30M131.46,317.50L131.46,320.00M131.46,477.70L131.46,475.20M141.43,17.50L141.43,19.70M141.43,317.50L141.43,315.30M141.43,317.50L141.43,319.00M141.43,477.70L141.43,476.20M151.40,17.50L151.40,25.70M151.40,317.50L151.40,309.30M151.40,317.50L151.40,322.70M151.40,477.70L151.40,472.90M161.37,17.50L161.37,19.70M161.37,317.50L161.37,315.30M161.37,317.50L161.37,319.00M161.37,477.70L161.37,476.20M171.34,17.50L171.34,21.70M171.34,317.50L171.34,313.30M171.34,317.50L171.34,320.00M171.34,477.70L171.34,475.20M181.31,17.50L181.31,19.70M181.31,317.50L181.31,315.30M181.31,317.50L181.31,319.00M181.31,477.70L181.31,476.20M191.28,17.50L191.28,21.70M191.28,317.50L191.28,313.30M191.28,317.50L191.28,320.00M191.28,477.70L191.28,475.20M201.25,17.50L201.25,19.70M201.25,317.50L201.25,315.30M201.25,317.50L201.25,319.00M201.25,477.70L201.25,476.20M211.22,17.50L211.22,21.70M211.22,317.50L211.22,313.30M211.22,317.50L211.22,320.00M211.22,477.70L211.22,475.20M221.19,17.50L221.19,19.70M221.19,317.50L221.19,315.30M221.19,317.50L221.19,319.00M221.19,477.70L221.19,476.20M231.16,17.50L231.16,21.70M231.16,317.50L231.16,313.30M231.16,317.50L231.16,320.00M231.16,477.70L231.16,475.20M241.13,17.50L241.13,19.70M241.13,317.50L241.13,315.30M241.13,317.50L241.13,319.00M241.13,477.70L241.13,476.20M251.10,17.50L251.10,25.70M251.10,317.50L251.10,309.30M251.10,317.50L251.10,322.70M251.10,477.70L251.10,472.90M261.07,17.50L261.07,19.70M261.07,317.50L261.07,315.30M261.07,317.50L261.07,319.00M261.07,477.70L261.07,476.20M271.04,17.50L271.04,21.70M271.04,317.50L271.04,313.30M271.04,317.50L271.04,320.00M271.04,477.70L271.04,475.20M281.01,17.50L281.01,19.70M281.01,317.50L281.01,315.30M281.01,317.50L281.01,319.00M281.01,477.70L281.01,476.20M290.98,17.50L290.98,21.70M290.98,317.50L290.98,313.30M290.98,317.50L290.98,320.00M290.98,477.70L290.98,475.20M300.95,17.50L300.95,19.70M300.95,317.50L300.95,315.30M300.95,317.50L300.95,319.00M300.95,477.70L300.95,476.20M310.92,17.50L310.92,21.70M310.92,317.50L310.92,313.30M310.92,317.50L310.92,320.00M310.92,477.70L310.92,475.20M320.89,17.50L320.89,19.70M320.89,317.50L320.89,315.30M320.89,317.50L320.89,319.00M320.89,477.70L320.89,476.20M330.86,17.50L330.86,21.70M330.86,317.50L330.86,313.30M330.86,317.50L330.86,320.00M330.86,477.70L330.86,475.20M340.83,17.50L340.83,19.70M340.83,317.50L340.83,315.30M340.83,317.50L340.83,319.00M340.83,477.70L340.83,476.20M350.80,17.50L350.80,25.70M350.80,317.50L350.80,309.30M350.80,317.50L350.80,322.70M350.80,477.70L350.80,472.90M360.77,17.50L360.77,19.70M360.77,317.50L360.77,315.30M360.77,317.50L360.77,319.00M360.77,477.70L360.77,476.20M45.60,458.21L52.60,458.21M371.20,458.21L364.20,458.21M45.60,442.27L50.20,442.27M371.20,442.27L366.60,442.27M45.60,428.79L50.20,428.79M371.20,428.79L366.60,428.79M45.60,417.12L50.20,417.12M371.20,417.12L366.60,417.12M45.60,406.82L50.20,406.82M371.20,406.82L366.60,406.82M45.60,397.61L52.60,397.61M371.20,397.61L364.20,397.61M45.60,389.28L50.20,389.28M371.20,389.28L366.60,389.28M45.60,381.67L50.20,381.67M371.20,381.67L366.60,381.67M45.60,374.67L50.20,374.67M371.20,374.67L366.60,374.67M45.60,368.19L50.20,368.19M371.20,368.19L366.60,368.19M45.60,362.16L50.20,362.16M371.20,362.16L366.60,362.16M45.60,356.52L50.20,356.52M371.20,356.52L366.60,356.52M45.60,351.22L50.20,351.22M371.20,351.22L366.60,351.22M45.60,346.22L50.20,346.22M371.20,346.22L366.60,346.22M45.60,341.49L50.20,341.49M371.20,341.49L366.60,341.49M45.60,337.01L52.60,337.01M371.20,337.01L364.20,337.01M45.60,332.74L50.20,332.74M371.20,332.74L366.60,332.74M45.60,328.68L50.20,328.68M371.20,328.68L366.60,328.68M45.60,324.79L50.20,324.79M371.20,324.79L366.60,324.79M45.60,321.07L50.20,321.07M371.20,321.07L366.60,321.07" stroke="#000" stroke-width="0.9" fill="none"/>
<g font-size="11.2" fill="#000" text-anchor="end">
</g><g font-size="11.2" fill="#000">
<text x="23.25" y="63.78">10</text><text x="34.7" y="58.68" font-size="7.7">3</text>
<text x="23.25" y="107.72">10</text><text x="34.6" y="102.62" font-size="7.7">2</text>
<text x="21.25" y="239.54">10</text><text x="37.1" y="234.54" font-size="7.7">1</text><rect x="33.0" y="232.54" width="4.10" height="0.8" fill="#000"/>
<text x="19.35" y="283.48">10</text><text x="34.8" y="278.48" font-size="7.7">2</text><rect x="31.0" y="276.48" width="3.90" height="0.8" fill="#000"/>
</g><g font-size="11.2" fill="#000" text-anchor="end">
<text x="40" y="150.26">10</text>
<text x="40" y="194.20">1</text>
<text x="38" y="341.01">2</text>
<text x="38" y="401.61">1</text>
<text x="38" y="462.21">0.5</text>
</g>
<g font-size="11.2" fill="#000" text-anchor="middle">
<text x="51.70" y="489.2">0</text>
<text x="151.40" y="489.2">1</text>
<text x="251.10" y="489.2">2</text>
<text x="350.80" y="489.2">3</text>
</g>
<text x="51" y="13.7" font-size="12">7000 GeV pp</text>
<text x="367.5" y="13.7" font-size="12" text-anchor="end">Top (parton level)</text>
<text y="42.8" font-size="9" letter-spacing="0.5"><tspan x="147.8">Δ</tspan><tspan x="154.3" y="43.2" font-size="10.5" letter-spacing="0">ϕ</tspan><tspan y="42.8"> </tspan><tspan x="164">(ttbar)</tspan><tspan x="194.3">(pTtt</tspan><tspan x="216.6">&lt;</tspan><tspan x="225.8">50</tspan><tspan x="239.6">dy</tspan><tspan x="252.7">&lt;</tspan><tspan x="260.5">0)</tspan></text>
<line x1="64" y1="62" x2="89" y2="62" stroke="#0000ff" stroke-width="1.1"/>
<path d="M73.6,64.6h6l-3,-5.2z" fill="#0000ff"/>
<line x1="64" y1="75.2" x2="89" y2="75.2" stroke="#1aa0c4" stroke-width="1.1" stroke-dasharray="4,1.8,0.7,1.9"/>
<path d="M73.6,72.6h6l-3,5.2z" fill="#1aa0c4"/>
<text x="94" y="64.2" font-size="9.4">Pythia 8.315 default</text>
<text x="94" y="77.5" font-size="9.4">Pythia 8.315 vincia-default</text>
<text x="208" y="301.5" font-size="8" fill="#a0a0a0" text-anchor="middle">(MC_FBA_TTBAR)</text>
<text transform="translate(380.4,127.9) rotate(-90)" font-size="9.4" fill="#666">Rivet 4.1.0, ≥ 100k events</text>
<text transform="translate(381,313.5) rotate(-90)" font-size="9.4" fill="#666">mcplots.cern.ch [arXiv:2401.10621]</text>
<text transform="translate(17,452.4) rotate(-90)" font-size="9">Ratio to Pythia 8.315 default</text>
</svg></body></html>
